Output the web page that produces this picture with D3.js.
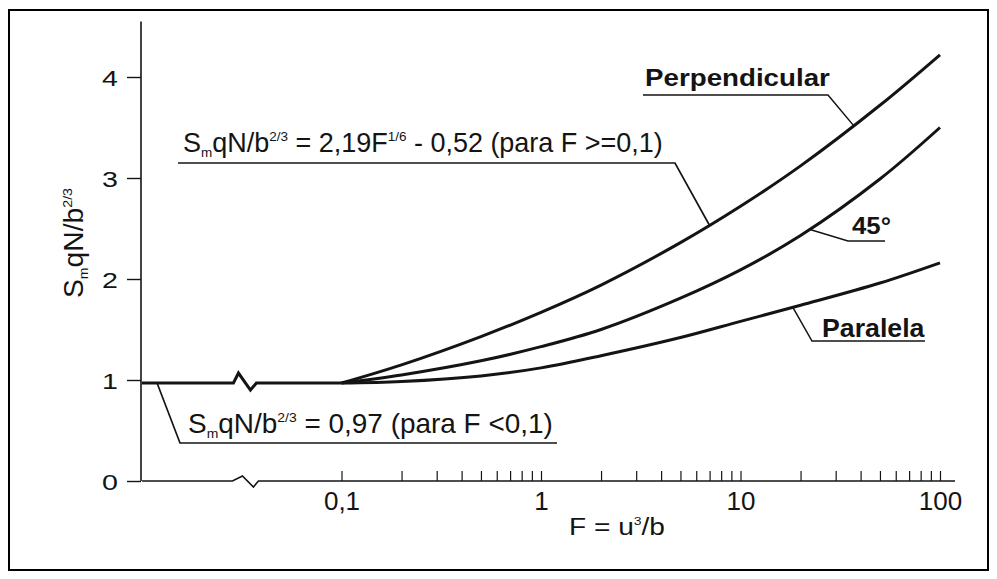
<!DOCTYPE html>
<html><head><meta charset="utf-8">
<script src="https://cdn.jsdelivr.net/npm/d3@7"></script>
<style>
body{margin:0;background:#fff}
svg{display:block}
text{font-family:"Liberation Sans",Arial,Helvetica,sans-serif;fill:#141414}
</style>
</head><body>
<svg id="c" width="997" height="579"></svg>
<script>
// ---- data ----
const F = [0.1, 0.2, 0.5, 1, 2, 5, 10, 20, 50, 100];
const perpendicular = [0.97, 1.15, 1.43, 1.67, 1.94, 2.36, 2.72, 3.12, 3.72, 4.22];
const deg45        = [0.97, 1.05, 1.19, 1.33, 1.50, 1.81, 2.09, 2.43, 2.99, 3.50];
const paralela     = [0.97, 0.985, 1.04, 1.12, 1.24, 1.42, 1.58, 1.74, 1.96, 2.16];
const flatF = [0.01, 0.1];
const flatValue = 0.97;
const breakF = 0.033;
const yTicks = [0, 1, 2, 3, 4];
const xTicks = [0.1, 1, 10, 100];
const xTickLabels = ["0,1", "1", "10", "100"];
const seriesNames = ["Perpendicular", "45°", "Paralela"];

const svg = d3.select("#c");
const x = d3.scaleLog().domain([0.01, 100]).range([142, 940]);
const y = d3.scaleLinear().domain([0, 4]).range([481, 77]);
const ink = "#141414";

// border
svg.append("rect").attr("x", 9).attr("y", 10).attr("width", 979).attr("height", 560)
  .attr("fill", "none").attr("stroke", "#000").attr("stroke-width", 2);

// helper: stretch text horizontally to a target width
function fit(t, x0, y0, w) {
  const bb = t.node().getBBox();
  const s = w / bb.width;
  t.attr("x", 0).attr("y", 0)
   .attr("transform", `translate(${x0 - bb.x * s},${y0}) scale(${s},1)`);
}
function richText(g, parts, size, weight) {
  const t = g.append("text").attr("font-size", size).attr("font-weight", weight || "normal");
  parts.forEach(p => {
    const sp = t.append("tspan").text(p.t);
    if (p.sub) sp.attr("font-size", size * 0.5).attr("dy", size * 0.2);
    if (p.sup) sp.attr("font-size", size * 0.5).attr("dy", -size * 0.42);
    if (p.back) sp.attr("dy", p.back);
  });
  return t;
}

// ---- y axis ----
const yAxis = svg.append("g").attr("transform", "translate(141,0)")
  .call(d3.axisLeft(y).tickValues(yTicks).tickSize(14).tickFormat(d => d));
yAxis.select(".domain").remove();
yAxis.selectAll(".tick line").attr("stroke", ink).attr("stroke-width", 1.4);
yAxis.selectAll(".tick text").attr("x", 0).attr("dy", null).attr("text-anchor", "middle")
  .attr("font-size", 22).attr("fill", ink)
  .attr("transform", "translate(-31,8) scale(1.3,1)");
svg.append("line").attr("x1", 141).attr("x2", 141).attr("y1", y(0)).attr("y2", y(4.55))
  .attr("stroke", ink).attr("stroke-width", 1.6);

// ---- x axis ----
const xMinor = x.ticks().filter(d => d > 0.1 && d < 100 && xTicks.indexOf(d) < 0);
const xMinorAxis = svg.append("g").attr("transform", `translate(0,${y(0)})`)
  .call(d3.axisBottom(x).tickValues(xMinor).tickSize(-10).tickFormat(""));
xMinorAxis.select(".domain").remove();
xMinorAxis.selectAll(".tick line").attr("stroke", ink).attr("stroke-width", 1.2);
const xAxis = svg.append("g").attr("transform", `translate(0,${y(0)})`)
  .call(d3.axisBottom(x).tickValues(xTicks).tickSize(-10)
    .tickFormat((d, i) => xTickLabels[i]));
xAxis.select(".domain").remove();
xAxis.selectAll(".tick line").attr("stroke", ink).attr("stroke-width", 1.2);
xAxis.selectAll(".tick text").attr("y", 29).attr("dy", null).attr("font-size", 26)
  .attr("fill", ink);

// axis line with break
const bx = x(breakF), y0 = y(0);
svg.append("path").attr("fill", "none").attr("stroke", ink).attr("stroke-width", 1.6)
  .attr("d", `M${x(0.01)},${y0}L${bx - 13},${y0}L${bx - 3},${y0 - 5}L${bx + 8},${y0 + 6}L${bx + 13},${y0}L${x(100) + 15},${y0}`);

// ---- flat part with break ----
const yf = y(flatValue);
svg.append("path").attr("fill", "none").attr("stroke", ink).attr("stroke-width", 3)
  .attr("d", `M${x(flatF[0])},${yf}L${bx - 12},${yf}L${bx - 7},${yf - 10}L${bx + 5},${yf + 7}L${bx + 11},${yf}L${x(flatF[1])},${yf}`);

// ---- curves ----
const line = d3.line().x(d => x(d[0])).y(d => y(d[1])).curve(d3.curveCatmullRom.alpha(0.5));
const series = [perpendicular, deg45, paralela];
const paths = series.map(vals =>
  svg.append("path").datum(F.map((f, i) => [f, vals[i]]))
    .attr("fill", "none").attr("stroke", ink).attr("stroke-width", 3)
    .attr("stroke-linejoin", "round").attr("d", line).node());

function pointAt(pathNode, xt) {
  let lo = 0, hi = pathNode.getTotalLength();
  for (let k = 0; k < 40; k++) {
    const mid = (lo + hi) / 2;
    if (pathNode.getPointAtLength(mid).x < xt) lo = mid; else hi = mid;
  }
  return pathNode.getPointAtLength(lo);
}

// ---- annotations ----
const ann = svg.append("g");
function leader(pts, w) {
  ann.append("path").attr("fill", "none").attr("stroke", ink).attr("stroke-width", w || 1.5)
    .attr("d", d3.line()(pts));
}
// Perpendicular
let p = pointAt(paths[0], x(37));
leader([[p.x, p.y], [828, 95], [643, 95]]);
fit(ann.append("text").attr("font-size", 24).attr("font-weight", "bold").text(seriesNames[0]), 645, 86, 185);
// 45°
p = pointAt(paths[1], x(22.3));
leader([[p.x, p.y], [848, 241], [885, 241]]);
fit(ann.append("text").attr("font-size", 24).attr("font-weight", "bold").text(seriesNames[1]), 852, 234, 39);
// Paralela
p = pointAt(paths[2], x(18.3));
leader([[p.x, p.y], [812, 341], [925, 341]]);
fit(ann.append("text").attr("font-size", 26).attr("font-weight", "bold").text(seriesNames[2]), 822, 337, 103);
// Formula for F >= 0.1
p = pointAt(paths[0], x(7));
leader([[p.x, p.y], [675, 163], [178, 163]], 1.7);
fit(richText(ann, [{t: "S"}, {t: "m", sub: true}, {t: "qN/b", back: -27 * 0.2},
  {t: "2/3", sup: true}, {t: " = 2,19F", back: 27 * 0.42}, {t: "1/6", sup: true},
  {t: " - 0,52 (para F >=0,1)", back: 27 * 0.42}], 27), 183, 152, 480);
// Formula for F < 0.1
leader([[x(0.0119), yf], [180, 443], [557, 443]], 1.7);
fit(richText(ann, [{t: "S"}, {t: "m", sub: true}, {t: "qN/b", back: -27 * 0.2},
  {t: "2/3", sup: true}, {t: " = 0,97 (para F <0,1)", back: 27 * 0.42}], 27), 188, 433, 365);

// axis titles
fit(richText(svg, [{t: "F = u"}, {t: "3", sup: true}, {t: "/b", back: 23 * 0.42}], 23), 569, 535, 96);
const yt = richText(svg, [{t: "S"}, {t: "m", sub: true}, {t: "qN/b", back: -27 * 0.2},
  {t: "2/3", sup: true}], 27);
{
  const bb = yt.node().getBBox();
  const s = 110 / bb.width;
  yt.attr("transform", `translate(83,298) rotate(-90) scale(${s},1)`);
}
</script>
</body></html>
